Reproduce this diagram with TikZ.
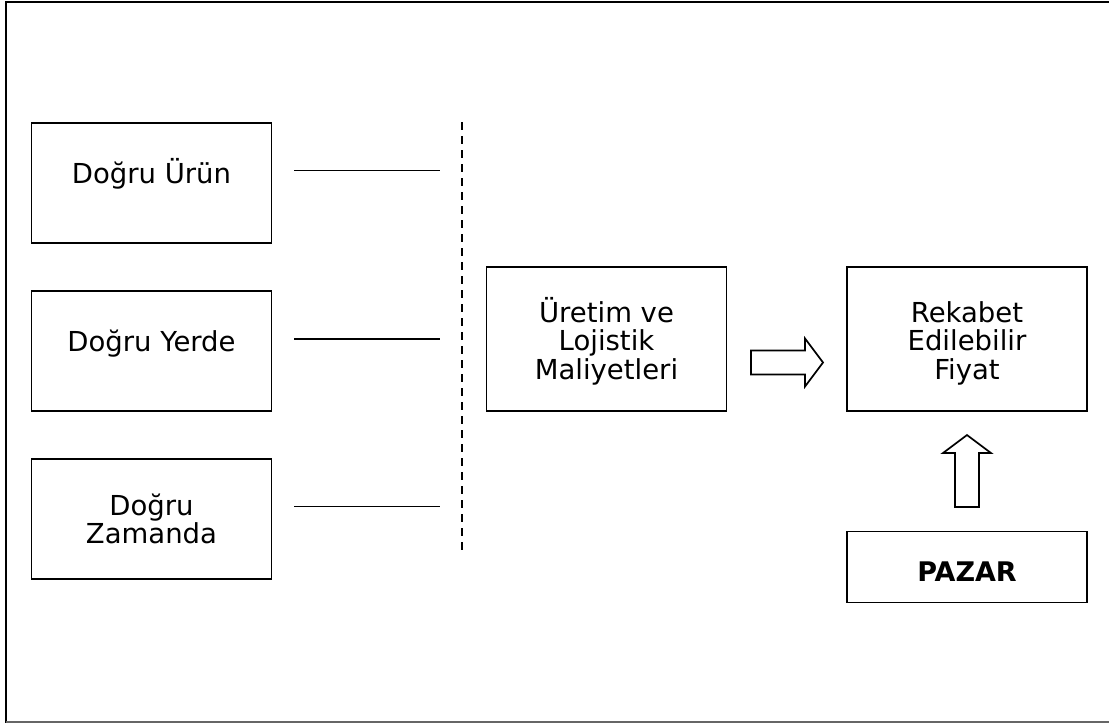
\documentclass[tikz,border=0pt]{standalone}
\usepackage{fontspec}
\setmainfont{DejaVu Sans}
\begin{document}
\begin{tikzpicture}[x=1pt,y=-1pt,
  box/.style={draw, line width=1.7pt, minimum width=240pt, inner sep=0pt},
  txt/.style={anchor=base, inner sep=0pt, font=\fontsize{27.5}{28.5}\selectfont},
  boldtxt/.style={anchor=base, inner sep=0pt, font=\fontsize{27}{28}\selectfont\bfseries},
  link/.style={line width=1.8pt},
  divider/.style={line width=1.7pt, dash pattern=on 8pt off 6pt},
  blockarrow/.style={draw, line width=1.7pt, line join=miter, fill=white}]
\useasboundingbox (0,0) rectangle (1109,724);

% frame
\draw[line width=2.5pt] (1112,2) -- (6,2) -- (6,723);
\draw[line width=1.5pt, black!60] (6,722) -- (1112,722);

% left column
\node[box, minimum height=120pt] (urun)   at (151.5,183) {};
\node[box, minimum height=120pt] (yer)    at (151.5,351) {};
\node[box, minimum height=120pt] (zaman)  at (151.5,519) {};
\node[txt] (turun) at (151.5,183) {Doğru Ürün};
\node[txt] (tyer)  at (151.5,351) {Doğru Yerde};
\node[txt] (tz1)   at (151.5,515) {Doğru};
\node[txt] (tz2)   at (151.5,543) {Zamanda};

% lines to the divider
\coordinate (l1a) at (294,170.5); \coordinate (l1b) at (440,170.5);
\coordinate (l2a) at (294,339);   \coordinate (l2b) at (440,339);
\coordinate (l3a) at (294,506.5); \coordinate (l3b) at (440,506.5);
\draw[link] (l1a) -- (l1b);
\draw[link] (l2a) -- (l2b);
\draw[link] (l3a) -- (l3b);

% dashed divider
\coordinate (dtop) at (462,122);
\coordinate (dbot) at (462,551);
\draw[divider] (dtop) -- (dbot);

% costs and price
\node[box, minimum height=144pt] (maliyet) at (606.5,339) {};
\node[txt] (m1) at (606.5,322) {Üretim ve};
\node[txt] (m2) at (606.5,350.5) {Lojistik};
\node[txt] (m3) at (606.5,379) {Maliyetleri};

\node[box, minimum height=144pt] (fiyat) at (967,339) {};
\node[txt] (f1) at (967,322) {Rekabet};
\node[txt] (f2) at (967,350.5) {Edilebilir};
\node[txt] (f3) at (967,379) {Fiyat};

% market
\node[box, minimum height=71pt] (pazar) at (967,567) {};
\node[boldtxt] (tpazar) at (967,581) {PAZAR};

% block arrows
\draw[blockarrow] (751,350.5) -- (805,350.5) -- (805,338.5) -- (823,362.5)
  -- (805,386.5) -- (805,374.5) -- (751,374.5) -- cycle;
\draw[blockarrow] (955,507) -- (955,453) -- (943,453) -- (967,435)
  -- (991,453) -- (979,453) -- (979,507) -- cycle;
\end{tikzpicture}
\end{document}
